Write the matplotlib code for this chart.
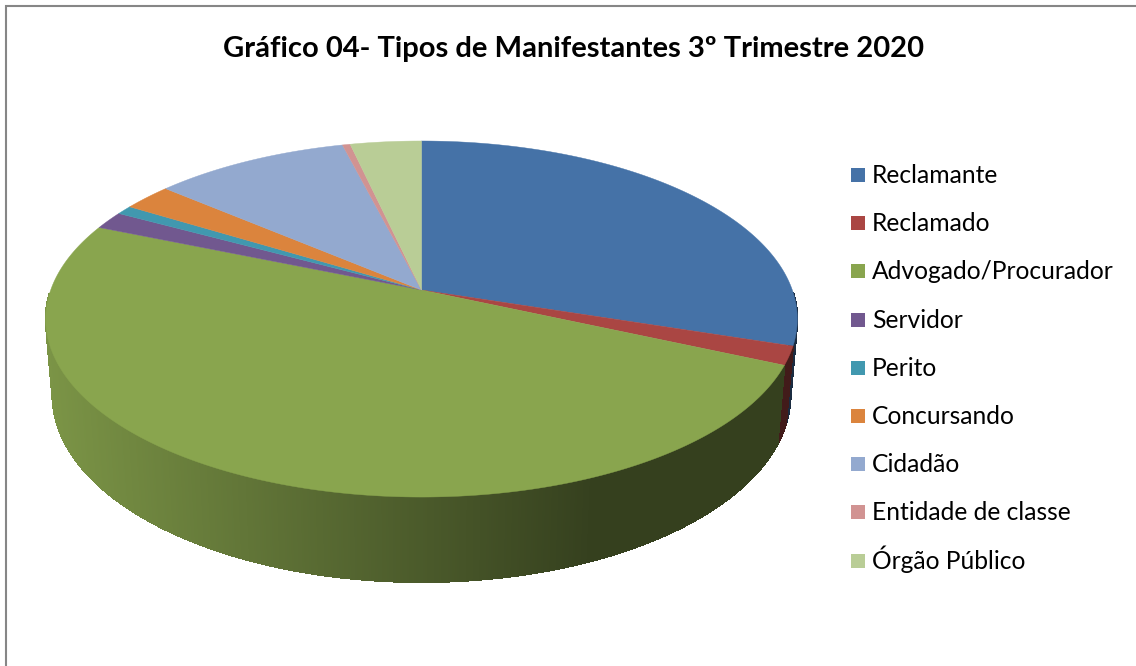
import numpy as np
import matplotlib
matplotlib.use("Agg")
import matplotlib.pyplot as plt
from matplotlib.collections import PolyCollection

plt.rcParams['font.family'] = ['Lato', 'DejaVu Sans']

title = "Gráfico 04- Tipos de Manifestantes 3º Trimestre 2020"
categories = ["Reclamante", "Reclamado", "Advogado/Procurador", "Servidor", "Perito",
              "Concursando", "Cidadão", "Entidade de classe", "Órgão Público"]
shares = [29.97, 1.68, 49.61, 1.63, 0.83, 2.47, 9.84, 0.39, 3.58]
colors = ["#4572A7", "#AA4643", "#89A54E", "#71588F", "#4198AF",
          "#DB843D", "#93A9CF", "#D19392", "#B9CD96"]

# perspective camera for the tilted disc, in image pixels
cx, cy = 421.5, 290.0
R, B, D = 370.8, 173.3, 76.4
c, e = 0.163, 0.018


def project(theta, z=0.0):
    # theta runs clockwise from 12 o'clock, z=1 is the underside of the pie
    u, v = np.sin(theta), np.cos(theta)
    w = 1 + c * v + e * z
    return cx + R * u / w, cy - (B * v - D * z) / w


def shade(x):
    # side wall gets darker going right, flat after about x=590
    return np.interp(x, [45, 590], [0.90, 0.39])


fig = plt.figure(figsize=(11.36, 6.66), dpi=100)
ax = fig.add_axes([0, 0, 1, 1])
ax.set_xlim(0, 1136)
ax.set_ylim(666, 0)
ax.axis("off")

# chart frame, only the top and left edges are inside the picture
ax.plot([6, 6, 1140], [670, 6, 6], color="#868686", lw=1.5, solid_joinstyle="miter")

edges = np.cumsum([0] + shares) / np.sum(shares) * 2 * np.pi

# side wall, the back half is hidden by the top face anyway
quads, quad_cols, quad_depth = [], [], []
for i, col in enumerate(colors):
    rgb = np.array(matplotlib.colors.to_rgb(col))
    n = max(2, int((edges[i + 1] - edges[i]) / np.radians(0.3)))
    t = np.linspace(edges[i], edges[i + 1], n + 1)
    for a, b in zip(t[:-1], t[1:]):
        if np.cos((a + b) / 2) > -0.02:
            continue
        x1, y1 = project(a)
        x2, y2 = project(b)
        x3, y3 = project(b, 1)
        x4, y4 = project(a, 1)
        quads.append([(x1, y1), (x2, y2), (x3, y3), (x4, y4)])
        quad_cols.append(tuple(rgb * shade((x1 + x2) / 2)))
        quad_depth.append(np.cos((a + b) / 2))

order = np.argsort(quad_depth)[::-1]
side = PolyCollection([quads[k] for k in order],
                      facecolors=[quad_cols[k] for k in order],
                      edgecolors=[quad_cols[k] for k in order],
                      linewidths=0.7, antialiaseds=False)
ax.add_collection(side)

# top face
for i, col in enumerate(colors):
    t = np.linspace(edges[i], edges[i + 1], 300)
    xs, ys = project(t)
    ax.fill(np.r_[cx, xs], np.r_[cy, ys], color=col, lw=0.3)

ax.text(573.5, 49, title, ha="center", va="center", fontsize=21, fontweight="bold", color="black")

# legend rows are evenly spaced in the reference
for i, (name, col) in enumerate(zip(categories, colors)):
    y = 175 + 48.2 * i
    ax.scatter([858], [y], marker="s", s=90, color=col, linewidths=0)
    ax.text(872, y + 8, name, ha="left", va="baseline", fontsize=17.7, color="black")

fig.savefig("out.png", dpi=100)
